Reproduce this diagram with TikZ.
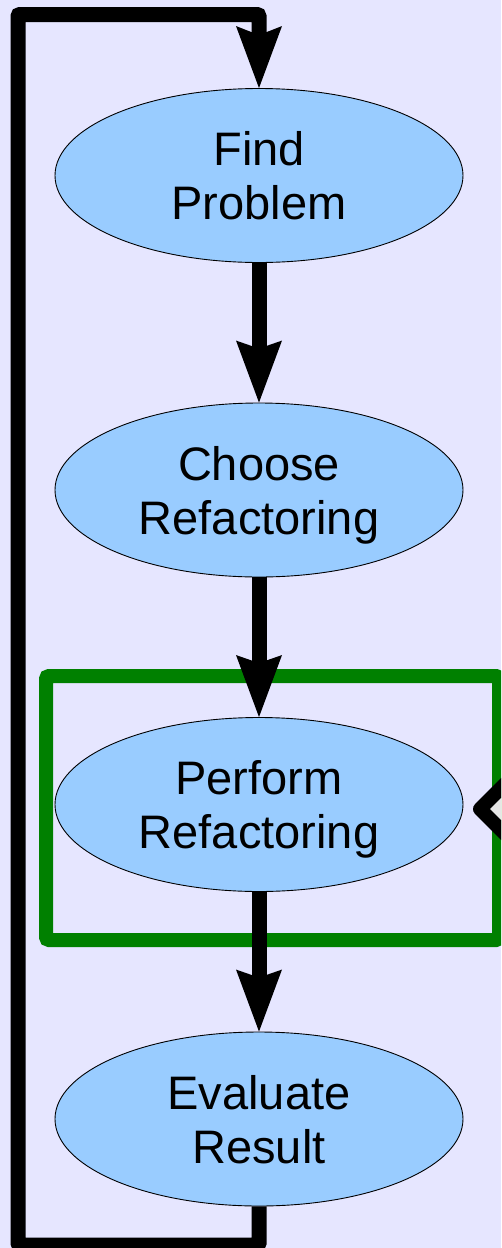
\documentclass[tikz,border=0pt]{standalone}
\usepackage{fontspec}
\setmainfont{Liberation Sans}
\usetikzlibrary{arrows.meta,shapes.geometric}
\definecolor{bgc}{HTML}{E6E6FF}
\definecolor{ellc}{HTML}{99CCFF}
\definecolor{boxg}{HTML}{008000}
\definecolor{chev}{HTML}{E6E6E6}
\tikzset{
  stepell/.style={ellipse, draw=black, line width=0.9pt, fill=ellc, minimum width=408pt, minimum height=174pt, inner sep=0pt, align=center, text depth=0pt, font=\fontsize{47}{54}\selectfont},
  flow/.style={line width=15pt, draw=black, -{Stealth[length=62pt,width=46pt,inset=8pt,line width=0pt]}},
}
\begin{document}
\begin{tikzpicture}[x=1pt,y=-1pt]
\useasboundingbox (0,0) rectangle (501,1248);
\clip (0,0) rectangle (501,1248);
\fill[bgc] (0,0) rectangle (501,1248);
% green box
\draw[boxg, line width=14pt, rounded corners=3pt] (46,676) rectangle (499,940);
% nodes
\node[stepell] (find) at (259,175.5) {Find\\Problem};
\node[stepell] (choose) at (259,490) {Choose\\Refactoring};
\node[stepell] (perform) at (259,804.5) {Perform\\Refactoring};
\node[stepell] (eval) at (259,1119) {Evaluate\\Result};
% arrows
\draw[flow] (find.south) -- (choose.north);
\draw[flow] (choose.south) -- (perform.north);
\draw[flow] (perform.south) -- (eval.north);
% loop back
\coordinate (lb) at (259,1245);
\coordinate (ll) at (18,1245);
\coordinate (lt) at (18,14.5);
\coordinate (rt) at (259,14.5);
\draw[line width=15pt, rounded corners=2pt, -{Stealth[length=62pt,width=46pt,inset=9pt,line width=0pt]}]
  (eval.south) -- (lb) -- (ll) -- (lt) -- (rt) -- (find.north);
% chevron at right edge
\coordinate (c1) at (525,764);
\coordinate (c2) at (480,809);
\coordinate (c3) at (525,854);
\draw[line width=14pt, line join=round, fill=chev] (c1) -- (c2) -- (c3);
\end{tikzpicture}
\end{document}
